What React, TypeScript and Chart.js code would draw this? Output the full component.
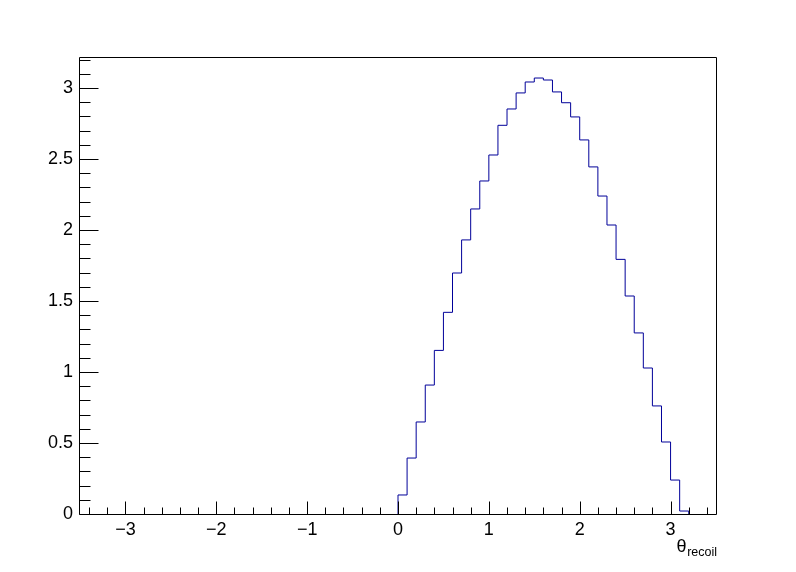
import React, { useEffect, useRef } from "react";
import { Chart, registerables } from "chart.js";

Chart.register(...registerables);

// Histogram of theta_recoil: bins of width 0.1 starting at 0
const binLowEdges = [
  0.0, 0.1, 0.2, 0.3, 0.4, 0.5, 0.6, 0.7, 0.8, 0.9,
  1.0, 1.1, 1.2, 1.3, 1.4, 1.5, 1.6, 1.7, 1.8, 1.9,
  2.0, 2.1, 2.2, 2.3, 2.4, 2.5, 2.6, 2.7, 2.8, 2.9,
  3.0, 3.1,
];
const binWidth = 0.1;
const binValues = [
  0.134, 0.394, 0.648, 0.908, 1.152, 1.42, 1.697, 1.93, 2.148, 2.345,
  2.528, 2.737, 2.852, 2.965, 3.042, 3.07, 3.056, 2.972, 2.896, 2.796,
  2.634, 2.444, 2.239, 2.035, 1.793, 1.535, 1.275, 1.028, 0.761, 0.507,
  0.239, 0.021,
];

const xTickValues = [-3, -2, -1, 0, 1, 2, 3];
const yTickValues = [0, 0.5, 1, 1.5, 2, 2.5, 3];
const xRange = [-3.5, 3.5];
const yRange = [0, 3.218];
const xMinorStep = 0.2;
const yMinorStep = 0.1;
const axisTitleMain = "θ";
const axisTitleSub = "recoil";

const FONT = "'Liberation Sans', Arial, Helvetica, sans-serif";
const LINE_COLOR = "#000099";

const rootFramePlugin = {
  id: "rootFrame",
  afterDatasetsDraw(chart: any) {
    const { ctx, chartArea: a, scales } = chart;
    const xs = scales.x;
    const ys = scales.y;
    const L = Math.round(a.left) - 0.5;
    const R = Math.round(a.right) + 0.5;
    const T = Math.round(a.top) + 0.5;
    const B = Math.round(a.bottom) + 0.5;
    ctx.save();
    ctx.strokeStyle = "#000";
    ctx.lineWidth = 1;
    ctx.beginPath();
    ctx.rect(L, T, R - L, B - T);
    ctx.stroke();

    ctx.beginPath();
    // x ticks (inside, pointing up)
    for (let i = -40; i <= 40; i++) {
      const v = i * xMinorStep;
      if (v <= xRange[0] + 1e-9 || v >= xRange[1] - 1e-9) continue;
      const isMajor = Math.abs(v - Math.round(v)) < 1e-6;
      const px = Math.round(xs.getPixelForValue(v)) + 0.5;
      const len = isMajor ? 13 : 7;
      ctx.moveTo(px, B);
      ctx.lineTo(px, B - len);
    }
    // y ticks (inside, pointing right)
    for (let i = 0; i <= 40; i++) {
      const v = i * yMinorStep;
      if (v > yRange[1] + 1e-9) continue;
      const isMajor = Math.abs(v * 2 - Math.round(v * 2)) < 1e-6;
      const py = Math.round(ys.getPixelForValue(v)) + 0.5;
      const len = isMajor ? 19 : 11;
      ctx.moveTo(L, py);
      ctx.lineTo(L + len, py);
    }
    ctx.stroke();

    // axis title: theta with subscript "recoil", right aligned to frame
    ctx.fillStyle = "#000";
    ctx.textBaseline = "alphabetic";
    ctx.font = `12.5px ${FONT}`;
    ctx.textAlign = "right";
    const subRight = Math.round(a.right) + 1;
    ctx.fillText(axisTitleSub, subRight, 556);
    const subW = ctx.measureText(axisTitleSub).width;
    ctx.font = `18px ${FONT}`;
    ctx.fillText(axisTitleMain, subRight - subW - 0.5, 551.5);
    ctx.restore();
  },
};

export default function App() {
  const canvasRef = useRef<HTMLCanvasElement | null>(null);

  useEffect(() => {
    const canvas = canvasRef.current;
    if (!canvas) return;

    const points: { x: number; y: number }[] = [{ x: binLowEdges[0], y: 0 }];
    binLowEdges.forEach((e, i) => points.push({ x: e, y: binValues[i] }));
    points.push({ x: binLowEdges[binLowEdges.length - 1] + binWidth, y: 0 });

    const fmt = (v: number) => String(v).replace("-", "\u2212");

    const chart = new Chart(canvas, {
      type: "line",
      data: {
        datasets: [
          {
            data: points,
            stepped: "before",
            borderColor: LINE_COLOR,
            borderWidth: 1,
            pointRadius: 0,
            fill: false,
          } as any,
        ],
      },
      options: {
        animation: false,
        responsive: false,
        devicePixelRatio: 1,
        layout: { padding: { left: 0, top: 57, right: 80, bottom: 0 } },
        plugins: {
          legend: { display: false },
          tooltip: { enabled: false },
          title: { display: false },
        },
        scales: {
          x: {
            type: "linear",
            min: xRange[0],
            max: xRange[1],
            grid: { display: false, drawTicks: false, tickLength: 0 },
            border: { display: false },
            afterBuildTicks: (s: any) => {
              s.ticks = xTickValues.map((v) => ({ value: v }));
            },
            afterFit: (s: any) => {
              s.height = 58;
            },
            ticks: {
              autoSkip: false,
              maxRotation: 0,
              padding: 5,
              color: "#000",
              font: { family: FONT, size: 18 },
              callback: (v: any) => fmt(Number(v)),
            },
          },
          y: {
            type: "linear",
            min: yRange[0],
            max: yRange[1],
            grid: { display: false, drawTicks: false, tickLength: 0 },
            border: { display: false },
            afterBuildTicks: (s: any) => {
              s.ticks = yTickValues.map((v) => ({ value: v }));
            },
            afterFit: (s: any) => {
              s.width = 80;
            },
            ticks: {
              autoSkip: false,
              padding: 7,
              color: "#000",
              font: { family: FONT, size: 18 },
              callback: (v: any) => fmt(Number(v)),
            },
          },
        },
      },
      plugins: [rootFramePlugin],
    });

    return () => {
      chart.destroy();
    };
  }, []);

  return (
    <div
      style={{
        position: "fixed",
        left: 0,
        top: 0,
        width: 796,
        height: 572,
        background: "#fff",
      }}
    >
      <canvas ref={canvasRef} width={796} height={572} style={{ display: "block" }} />
    </div>
  );
}
